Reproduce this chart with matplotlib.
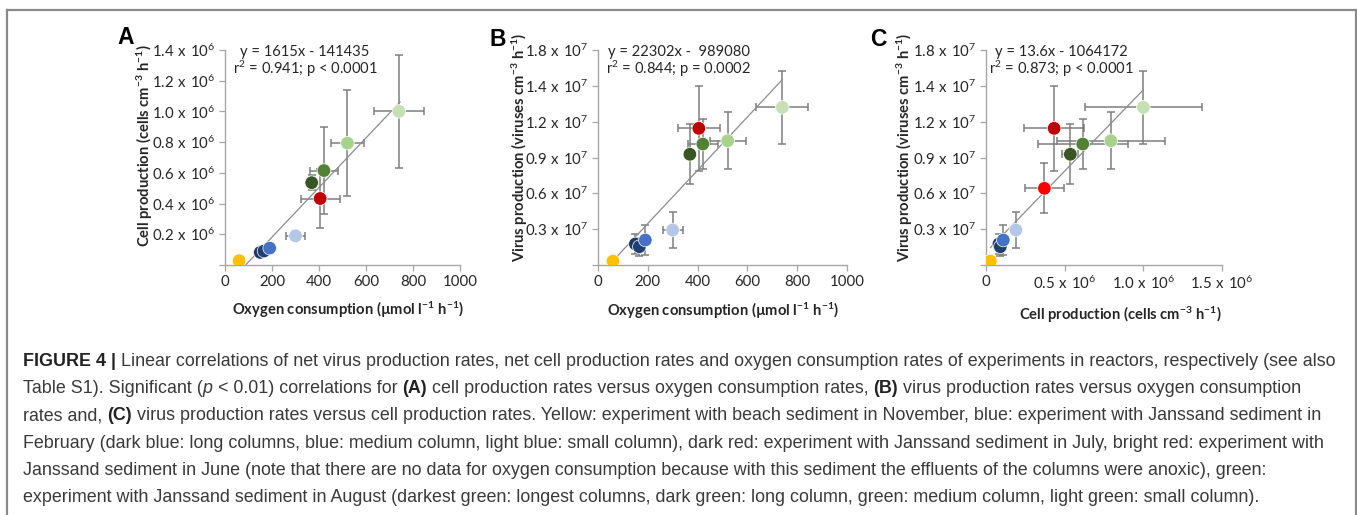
import numpy as np
import matplotlib
matplotlib.use('Agg')
import matplotlib.pyplot as plt
from matplotlib.lines import Line2D

plt.rcParams['font.family'] = ['Lato', 'DejaVu Sans']
plt.rcParams['mathtext.fontset'] = 'custom'
plt.rcParams['mathtext.rm'] = 'Lato'

# ---- data (one entry per experiment / column) ----
point_colors = ['#FFC000', '#1F3864', '#203E72', '#4472C4', '#B4C7E7', '#C00000',
                '#FF0000', '#375623', '#548235', '#A9D18E', '#C5E0B4']
# oxygen consumption (umol l-1 h-1); bright red (June) has no oxygen data
oxygen = [60, 150, 166, 190, 300, 405, np.nan, 369, 421, 521, 740]
oxygen_err = [4, 6, 6, 8, 40, 83, np.nan, 17, 60, 72, 105]
# cell production (x 10^6 cells cm-3 h-1)
cells = [0.028, 0.082, 0.091, 0.110, 0.190, 0.433, 0.371, 0.536, 0.615, 0.794, 1.000]
cells_err = [0.005, 0.010, 0.010, 0.012, 0.020, 0.190, 0.124, 0.050, 0.285, 0.345, 0.370]
# virus production (x 10^7 viruses cm-3 h-1)
viruses = [0.033, 0.176, 0.153, 0.209, 0.293, 1.144, 0.642, 0.927, 1.013, 1.040, 1.320]
viruses_err = [0.010, 0.080, 0.075, 0.125, 0.153, 0.357, 0.210, 0.250, 0.210, 0.237, 0.304]

# regression lines (slope, intercept) and x-extent of drawn line
fit_A = (1615, -141435)
fit_A_x = [87.6, 745]
fit_B = (22302, -989080)
fit_B_x = [62, 740]
fit_C = (13.6, 1064172)   # drawn line sits above origin in the figure
fit_C_x = [0.03e6, 1.0e6]

eq_A = ['y = 1615x - 141435', r'r$\mathregular{^2}$ = 0.941; p < 0.0001']
eq_B = ['y = 22302x -  989080', r'r$\mathregular{^2}$ = 0.844; p = 0.0002']
eq_C = ['y = 13.6x - 1064172', r'r$\mathregular{^2}$ = 0.873; p < 0.0001']

ticks_A_y = [0, 0.2, 0.4, 0.6, 0.8, 1.0, 1.2, 1.4]
ticks_BC_y = [0, 0.3, 0.6, 0.9, 1.2, 1.5, 1.8]
labels_BC_y = ['', '0.3', '0.6', '0.9', '1.2', '1.4', '1.8']
ticks_O2_x = [0, 200, 400, 600, 800, 1000]
ticks_C_x = [0, 0.5, 1.0, 1.5]

caption_lines = [
    [('FIGURE 4 |', 'bold', 'normal'),
     (' Linear correlations of net virus production rates, net cell production rates and oxygen consumption rates of experiments in reactors, respectively (see also', 'normal', 'normal')],
    [('Table S1). Significant (', 'normal', 'normal'), ('p', 'normal', 'italic'),
     (' < 0.01) correlations for ', 'normal', 'normal'), ('(A)', 'bold', 'normal'),
     (' cell production rates versus oxygen consumption rates, ', 'normal', 'normal'), ('(B)', 'bold', 'normal'),
     (' virus production rates versus oxygen consumption', 'normal', 'normal')],
    [('rates and, ', 'normal', 'normal'), ('(C)', 'bold', 'normal'),
     (' virus production rates versus cell production rates. Yellow: experiment with beach sediment in November, blue: experiment with Janssand sediment in', 'normal', 'normal')],
    [('February (dark blue: long columns, blue: medium column, light blue: small column), dark red: experiment with Janssand sediment in July, bright red: experiment with', 'normal', 'normal')],
    [('Janssand sediment in June (note that there are no data for oxygen consumption because with this sediment the effluents of the columns were anoxic), green:', 'normal', 'normal')],
    [('experiment with Janssand sediment in August (darkest green: longest columns, dark green: long column, green: medium column, light green: small column).', 'normal', 'normal')],
]

W, H = 1357, 515
fig = plt.figure(figsize=(W / 100, H / 100), dpi=100)

AX_GRAY = '#a6a6a6'
ERR_GRAY = '#7f7f7f'
TXT = '#262626'


def px_axes(l, t, r, b):
    return fig.add_axes([l / W, 1 - b / H, (r - l) / W, (b - t) / H])


def style_axes(ax):
    for s in ['top', 'right']:
        ax.spines[s].set_visible(False)
    for s in ['left', 'bottom']:
        ax.spines[s].set_color(AX_GRAY)
        ax.spines[s].set_linewidth(1.0)
    ax.tick_params(length=4, width=0.9, color=AX_GRAY, labelsize=10.8,
                   labelcolor=TXT, pad=3)
    ax.patch.set_alpha(0)


def draw_points(ax, x, xerr, y, yerr):
    ax.errorbar(x, y, xerr=xerr, yerr=yerr, fmt='none', ecolor=ERR_GRAY,
                elinewidth=1.1, capsize=3, capthick=1.1, zorder=2)
    ax.scatter(x, y, s=95, c=point_colors, edgecolors='white', linewidths=0.5, zorder=3)


def sci(v, e):
    return r'$\mathregular{%s\ x\ 10^{%d}}$' % (v, e)


oxy = np.array(oxygen, dtype=float)
oxy_e = np.array(oxygen_err, dtype=float)
cel = np.array(cells) * 1e6
cel_e = np.array(cells_err) * 1e6
vir = np.array(viruses) * 1e7
vir_e = np.array(viruses_err) * 1e7

# ---- panel A ----
axA = px_axes(225, 50, 460, 265)
style_axes(axA)
draw_points(axA, oxy, oxy_e, cel, cel_e)
xs = np.array(fit_A_x)
axA.plot(xs, fit_A[0] * xs + fit_A[1], color='#8c8c8c', lw=0.9, zorder=2.5)
axA.set_xlim(0, 1000)
axA.set_ylim(0, 1.4e6)
axA.set_xticks(ticks_O2_x, [str(t) for t in ticks_O2_x])
axA.set_yticks([t * 1e6 for t in ticks_A_y],
               [''] + [sci('%.1f' % t, 6) for t in ticks_A_y[1:]])

# ---- panel B ----
axB = px_axes(598, 50, 847, 265)
style_axes(axB)
draw_points(axB, oxy, oxy_e, vir, vir_e)
xs = np.array(fit_B_x)
axB.plot(xs, fit_B[0] * xs + fit_B[1], color='#8c8c8c', lw=0.9, zorder=2.5)
axB.set_xlim(0, 1000)
axB.set_ylim(0, 1.8e7)
axB.set_xticks(ticks_O2_x, [str(t) for t in ticks_O2_x])
axB.set_yticks([t * 1e7 for t in ticks_BC_y],
               [''] + [sci(l, 7) for l in labels_BC_y[1:]])

# ---- panel C ----
axC = px_axes(986, 50, 1222, 265)
style_axes(axC)
draw_points(axC, cel, cel_e, vir, vir_e)
xs = np.array(fit_C_x)
axC.plot(xs, fit_C[0] * xs + fit_C[1], color='#8c8c8c', lw=0.9, zorder=2.5)
axC.set_xlim(0, 1.5e6)
axC.set_ylim(0, 1.8e7)
axC.set_xticks([t * 1e6 for t in ticks_C_x],
               ['0'] + [sci('%.1f' % t, 6) for t in ticks_C_x[1:]])
axC.set_yticks([t * 1e7 for t in ticks_BC_y],
               [''] + [sci(l, 7) for l in labels_BC_y[1:]])


def ftext(x, y, s, **kw):
    return fig.text(x / W, 1 - y / H, s, **kw)


# panel letters
for (lx, ly, s) in [(126, 38, 'A'), (498, 39, 'B'), (878, 40, 'C')]:
    ftext(lx, ly, s, fontsize=16.5, fontweight='bold', family='Liberation Sans',
          ha='center', va='center', color='black')

# equations
for cx, eq in [(305, eq_A), (679, eq_B), (1061, eq_C)]:
    ftext(cx, 52, eq[0], fontsize=10.6, ha='center', va='center', color=TXT)
    ftext(cx, 69, eq[1], fontsize=10.6, ha='center', va='center', color=TXT)

sup3 = r'$\mathregular{^{-3}}$'
sup1 = r'$\mathregular{^{-1}}$'
ylab_cells = 'Cell production (cells cm' + sup3 + ' h' + sup1 + ')'
ylab_vir = 'Virus production (viruses cm' + sup3 + ' h' + sup1 + ')'
xlab_o2 = 'Oxygen consumption (µmol l' + sup1 + ' h' + sup1 + ')'

lab_kw = dict(fontsize=10.6, fontweight='bold', ha='center', va='center', color=TXT)
ftext(145, 146, ylab_cells, rotation=90, **lab_kw)
ftext(520, 147, ylab_vir, rotation=90, **lab_kw)
ftext(905, 147, ylab_vir, rotation=90, **lab_kw)
ftext(348, 310, xlab_o2, **lab_kw)
ftext(723, 311, xlab_o2, **lab_kw)
ftext(1120, 315, ylab_cells, **lab_kw)

# ---- frame around figure + caption ----
frame_kw = dict(color='#8a8a8a', lw=1.6, transform=fig.transFigure)
fig.add_artist(Line2D([7 / W, 1356 / W], [1 - 10 / H, 1 - 10 / H], **frame_kw))
fig.add_artist(Line2D([7 / W, 7 / W], [1 - 10 / H, 0], **frame_kw))
fig.add_artist(Line2D([1356 / W, 1356 / W], [1 - 10 / H, 0], **frame_kw))

CAP_FONT = ['Liberation Sans Narrow', 'Liberation Sans']
CAP_COLOR = '#3a3a3a'
renderer = fig.canvas.get_renderer()


def space_width(size, weight, style):
    a = fig.text(0, 0, 'a a', fontsize=size, fontweight=weight, fontstyle=style, family=CAP_FONT)
    b = fig.text(0, 0, 'aa', fontsize=size, fontweight=weight, fontstyle=style, family=CAP_FONT)
    w = a.get_window_extent(renderer).width - b.get_window_extent(renderer).width
    a.remove()
    b.remove()
    return w


def draw_runs(x0, y_base, runs, size):
    x = x0
    made = []
    for s, weight, style in runs:
        sw = space_width(size, weight, style)
        if s.startswith(' '):
            x += sw
        core = s.strip()
        t = ftext(x, y_base, core, fontsize=size, fontweight=weight, fontstyle=style,
                  family=CAP_FONT, color=('#222222' if weight == 'bold' else CAP_COLOR),
                  ha='left', va='baseline')
        made.append(t)
        x = t.get_window_extent(renderer).x1
        if s.endswith(' '):
            x += sw
    return made, x - x0


# fit caption size to the width of the first line
trial, wid = draw_runs(23, 366, caption_lines[0], 10)
for t in trial:
    t.remove()
cap_size = 10 * 1317 / wid

for i, runs in enumerate(caption_lines):
    draw_runs(23, 366 + 27.2 * i, runs, cap_size)

fig.savefig('out.png', dpi=100)
